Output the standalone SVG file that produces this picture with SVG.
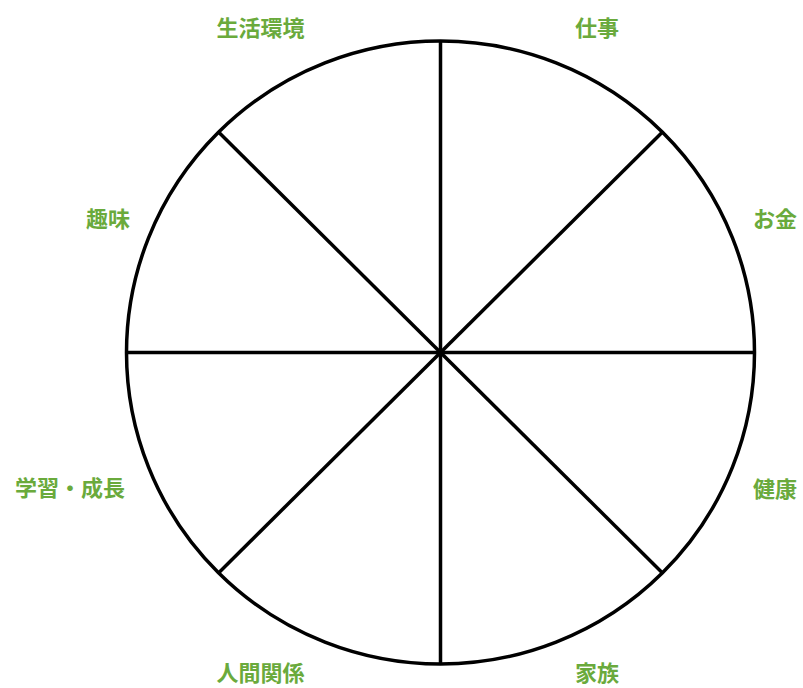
<svg xmlns="http://www.w3.org/2000/svg" width="803" height="688" viewBox="0 0 803 688">
<style>
.lbl{font-family:"Noto Sans CJK JP","Noto Sans CJK SC",sans-serif;font-size:22px;font-weight:bold;fill:#6aaa3c;text-anchor:middle;dominant-baseline:central}
.ln{stroke:#000;stroke-width:3.5;fill:none}
</style>
<rect width="803" height="688" fill="#fff"/>
<g id="wheel">
<ellipse class="ln" cx="440.5" cy="352.5" rx="314" ry="311.5"/>
</g>
<g id="connectors">
<line class="ln" x1="440.5" y1="41" x2="440.5" y2="664"/>
<line class="ln" x1="126.5" y1="352.5" x2="754.5" y2="352.5"/>
<line class="ln" x1="218.5" y1="132" x2="662.5" y2="573"/>
<line class="ln" x1="662.5" y1="132" x2="218.5" y2="573"/>
</g>
<g id="n1"><text class="lbl" x="260.5" y="26">生活環境</text></g>
<g id="n2"><text class="lbl" x="597" y="26">仕事</text></g>
<g id="n3"><text class="lbl" x="775" y="217">お金</text></g>
<g id="n4"><text class="lbl" x="775" y="487">健康</text></g>
<g id="n5"><text class="lbl" x="597" y="671">家族</text></g>
<g id="n6"><text class="lbl" x="260.5" y="671">人間関係</text></g>
<g id="n7"><text class="lbl" x="70" y="486">学習・成長</text></g>
<g id="n8"><text class="lbl" x="108" y="217">趣味</text></g>
</svg>
